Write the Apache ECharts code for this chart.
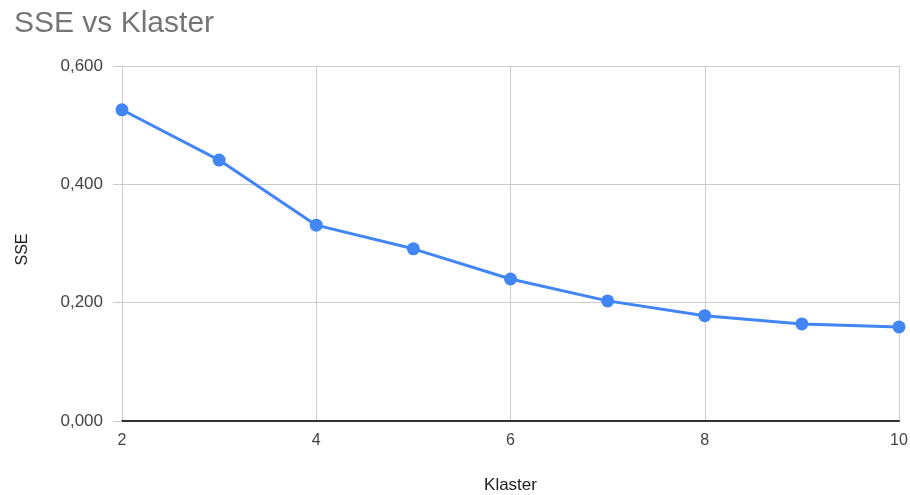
<!DOCTYPE html>
<html>
<head>
<meta charset="utf-8">
<script src="https://cdn.jsdelivr.net/npm/echarts@6/dist/echarts.min.js"></script>
<style>html,body{margin:0;padding:0;background:#fff;}#c{width:910px;height:495px;}</style>
</head>
<body>
<div id="c"></div>
<script>
var klaster = [2, 3, 4, 5, 6, 7, 8, 9, 10];
var sse = [0.526, 0.441, 0.331, 0.291, 0.240, 0.203, 0.178, 0.164, 0.159];
var titleText = 'SSE vs Klaster';
var xName = 'Klaster';
var yName = 'SSE';

var chart = echarts.init(document.getElementById('c'));
var points = klaster.map(function (k, i) { return [k, sse[i]]; });
var font = 'Arial, "Liberation Sans", sans-serif';
chart.setOption({
  animation: false,
  backgroundColor: '#fff',
  title: {
    text: titleText, left: 9, top: 4,
    textStyle: { fontFamily: font, fontSize: 30, fontWeight: 'normal', color: '#757575' }
  },
  grid: { left: 122, right: 11, top: 66, bottom: 74, containLabel: false, outerBoundsMode: 'none' },
  xAxis: {
    type: 'value', min: 2, max: 10, interval: 2,
    name: xName, nameLocation: 'middle', nameGap: 56,
    nameTextStyle: { fontFamily: font, fontSize: 17, color: '#222' },
    axisLine: { show: true, lineStyle: { color: '#333', width: 2 } },
    axisTick: { show: false },
    axisLabel: { fontFamily: font, fontSize: 16, color: '#444', margin: 12 },
    splitLine: { show: true, lineStyle: { color: '#cccccc', width: 1 } }
  },
  yAxis: {
    type: 'value', min: 0, max: 0.6, interval: 0.2,
    name: yName, nameLocation: 'middle', nameGap: 91,
    nameTextStyle: { fontFamily: font, fontSize: 16, color: '#222', padding: [0, 12, 0, 0] },
    axisLine: { show: false },
    axisTick: { show: true, length: 9, lineStyle: { color: '#cccccc' } },
    axisLabel: {
      fontFamily: font, fontSize: 17, color: '#444', margin: 19,
      formatter: function (v) { return v.toFixed(3).replace('.', ','); }
    },
    splitLine: { show: true, lineStyle: { color: '#cccccc', width: 1 } }
  },
  series: [{
    type: 'line', data: points,
    symbol: 'circle', symbolSize: 13,
    lineStyle: { color: '#4285F4', width: 3 },
    itemStyle: { color: '#4285F4' }
  }]
});
</script>
</body>
</html>
